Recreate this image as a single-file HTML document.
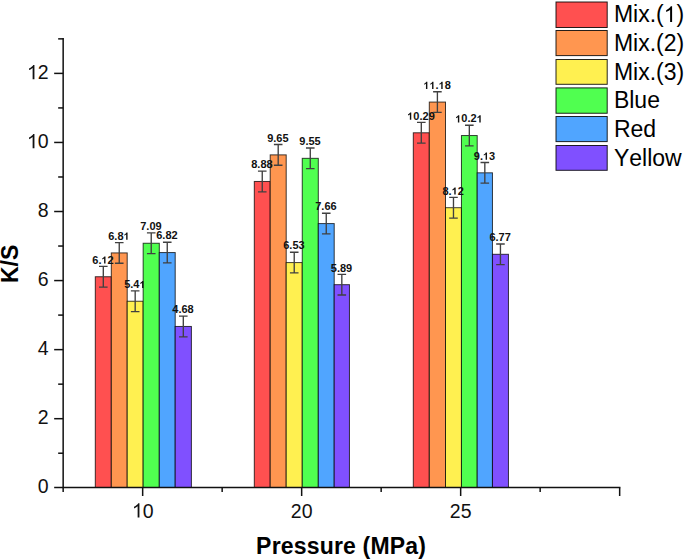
<!DOCTYPE html><html><head><meta charset="utf-8"><style>html,body{margin:0;padding:0;background:#fff;}svg{display:block;}text{font-family:"Liberation Sans",sans-serif;font-kerning:none;white-space:pre;}</style></head><body>
<svg width="685" height="559" viewBox="0 0 685 559">
<rect x="95.3" y="276.74" width="16" height="210.76" fill="#FF5050" stroke="#000" stroke-opacity="0.75" stroke-width="1"/>
<rect x="111.3" y="252.92" width="15.9" height="234.58" fill="#FF9650" stroke="#000" stroke-opacity="0.75" stroke-width="1"/>
<rect x="127.2" y="301.25" width="15.95" height="186.25" fill="#FFF050" stroke="#000" stroke-opacity="0.75" stroke-width="1"/>
<rect x="143.15" y="243.25" width="16.15" height="244.25" fill="#50FF50" stroke="#000" stroke-opacity="0.75" stroke-width="1"/>
<rect x="159.3" y="252.57" width="15.9" height="234.93" fill="#50A5FF" stroke="#000" stroke-opacity="0.75" stroke-width="1"/>
<rect x="175.2" y="326.45" width="16.2" height="161.05" fill="#8050FF" stroke="#000" stroke-opacity="0.75" stroke-width="1"/>
<rect x="254.3" y="181.46" width="15.9" height="306.04" fill="#FF5050" stroke="#000" stroke-opacity="0.75" stroke-width="1"/>
<rect x="270.2" y="154.88" width="16" height="332.62" fill="#FF9650" stroke="#000" stroke-opacity="0.75" stroke-width="1"/>
<rect x="286.2" y="262.58" width="16.05" height="224.92" fill="#FFF050" stroke="#000" stroke-opacity="0.75" stroke-width="1"/>
<rect x="302.25" y="158.33" width="16.05" height="329.17" fill="#50FF50" stroke="#000" stroke-opacity="0.75" stroke-width="1"/>
<rect x="318.3" y="223.58" width="15.9" height="263.92" fill="#50A5FF" stroke="#000" stroke-opacity="0.75" stroke-width="1"/>
<rect x="334.2" y="284.68" width="15.25" height="202.82" fill="#8050FF" stroke="#000" stroke-opacity="0.75" stroke-width="1"/>
<rect x="413.3" y="132.79" width="16" height="354.71" fill="#FF5050" stroke="#000" stroke-opacity="0.75" stroke-width="1"/>
<rect x="429.3" y="102.07" width="16.2" height="385.43" fill="#FF9650" stroke="#000" stroke-opacity="0.75" stroke-width="1"/>
<rect x="445.5" y="207.7" width="15.95" height="279.8" fill="#FFF050" stroke="#000" stroke-opacity="0.75" stroke-width="1"/>
<rect x="461.45" y="135.55" width="15.75" height="351.95" fill="#50FF50" stroke="#000" stroke-opacity="0.75" stroke-width="1"/>
<rect x="477.2" y="172.83" width="15.25" height="314.67" fill="#50A5FF" stroke="#000" stroke-opacity="0.75" stroke-width="1"/>
<rect x="492.45" y="254.3" width="16" height="233.2" fill="#8050FF" stroke="#000" stroke-opacity="0.75" stroke-width="1"/>
<path d="M103.3 266.39V287.09M99 266.39H107.6M99 287.09H107.6" stroke="#404040" stroke-width="1.35" fill="none"/>
<text x="92.295" y="263.588" font-size="11" font-weight="bold" fill="#111">6. 2</text><path transform="matrix(0.005 0 0 -0.005 101.469 263.588)" d="M806 0L525 0L525 1033C422 939 301 870 162 825L162 1074C235 1097 315 1141 401 1207C487 1272 546 1346 578 1430L806 1430Z" fill="#111"/>
<path d="M119.25 242.57V263.27M114.95 242.57H123.55M114.95 263.27H123.55" stroke="#404040" stroke-width="1.35" fill="none"/>
<text x="108.245" y="239.769" font-size="11" font-weight="bold" fill="#111">6.8 </text><path transform="matrix(0.005 0 0 -0.005 123.537 239.769)" d="M806 0L525 0L525 1033C422 939 301 870 162 825L162 1074C235 1097 315 1141 401 1207C487 1272 546 1346 578 1430L806 1430Z" fill="#111"/>
<path d="M135.18 290.9V311.6M130.88 290.9H139.48M130.88 311.6H139.48" stroke="#404040" stroke-width="1.35" fill="none"/>
<text x="124.17" y="288.097" font-size="11" font-weight="bold" fill="#111">5.4 </text><path transform="matrix(0.005 0 0 -0.005 139.462 288.097)" d="M806 0L525 0L525 1033C422 939 301 870 162 825L162 1074C235 1097 315 1141 401 1207C487 1272 546 1346 578 1430L806 1430Z" fill="#111"/>
<path d="M151.23 232.9V253.6M146.93 232.9H155.53M146.93 253.6H155.53" stroke="#404040" stroke-width="1.35" fill="none"/>
<text x="140.22" y="230.103" font-size="11" font-weight="bold" fill="#111">7.09</text>
<path d="M167.25 242.22V262.92M162.95 242.22H171.55M162.95 262.92H171.55" stroke="#404040" stroke-width="1.35" fill="none"/>
<text x="156.245" y="239.424" font-size="11" font-weight="bold" fill="#111">6.82</text>
<path d="M183.3 316.1V336.8M179 316.1H187.6M179 336.8H187.6" stroke="#404040" stroke-width="1.35" fill="none"/>
<text x="172.295" y="313.296" font-size="11" font-weight="bold" fill="#111">4.68</text>
<path d="M262.25 171.11V191.81M257.95 171.11H266.55M257.95 191.81H266.55" stroke="#404040" stroke-width="1.35" fill="none"/>
<text x="251.245" y="168.312" font-size="11" font-weight="bold" fill="#111">8.88</text>
<path d="M278.2 144.53V165.23M273.9 144.53H282.5M273.9 165.23H282.5" stroke="#404040" stroke-width="1.35" fill="none"/>
<text x="267.195" y="141.732" font-size="11" font-weight="bold" fill="#111">9.65</text>
<path d="M294.23 252.23V272.93M289.93 252.23H298.53M289.93 272.93H298.53" stroke="#404040" stroke-width="1.35" fill="none"/>
<text x="283.22" y="249.434" font-size="11" font-weight="bold" fill="#111">6.53</text>
<path d="M310.27 147.98V168.68M305.97 147.98H314.57M305.97 168.68H314.57" stroke="#404040" stroke-width="1.35" fill="none"/>
<text x="299.27" y="145.184" font-size="11" font-weight="bold" fill="#111">9.55</text>
<path d="M326.25 213.23V233.93M321.95 213.23H330.55M321.95 233.93H330.55" stroke="#404040" stroke-width="1.35" fill="none"/>
<text x="315.245" y="210.427" font-size="11" font-weight="bold" fill="#111">7.66</text>
<path d="M341.82 274.33V295.03M337.52 274.33H346.12M337.52 295.03H346.12" stroke="#404040" stroke-width="1.35" fill="none"/>
<text x="330.82" y="271.527" font-size="11" font-weight="bold" fill="#111">5.89</text>
<path d="M421.3 122.44V143.14M417 122.44H425.6M417 143.14H425.6" stroke="#404040" stroke-width="1.35" fill="none"/>
<text x="407.237" y="119.639" font-size="11" font-weight="bold" fill="#111"> 0.29</text><path transform="matrix(0.005 0 0 -0.005 407.237 119.639)" d="M806 0L525 0L525 1033C422 939 301 870 162 825L162 1074C235 1097 315 1141 401 1207C487 1272 546 1346 578 1430L806 1430Z" fill="#111"/>
<path d="M437.4 91.72V112.42M433.1 91.72H441.7M433.1 112.42H441.7" stroke="#404040" stroke-width="1.35" fill="none"/>
<text x="423.337" y="88.916" font-size="11" font-weight="bold" fill="#111">  . 8</text><path transform="matrix(0.005 0 0 -0.005 423.337 88.916)" d="M806 0L525 0L525 1033C422 939 301 870 162 825L162 1074C235 1097 315 1141 401 1207C487 1272 546 1346 578 1430L806 1430Z" fill="#111"/><path transform="matrix(0.005 0 0 -0.005 429.454 88.916)" d="M806 0L525 0L525 1033C422 939 301 870 162 825L162 1074C235 1097 315 1141 401 1207C487 1272 546 1346 578 1430L806 1430Z" fill="#111"/><path transform="matrix(0.005 0 0 -0.005 438.628 88.916)" d="M806 0L525 0L525 1033C422 939 301 870 162 825L162 1074C235 1097 315 1141 401 1207C487 1272 546 1346 578 1430L806 1430Z" fill="#111"/>
<path d="M453.48 197.35V218.05M449.18 197.35H457.78M449.18 218.05H457.78" stroke="#404040" stroke-width="1.35" fill="none"/>
<text x="442.47" y="194.548" font-size="11" font-weight="bold" fill="#111">8. 2</text><path transform="matrix(0.005 0 0 -0.005 451.644 194.548)" d="M806 0L525 0L525 1033C422 939 301 870 162 825L162 1074C235 1097 315 1141 401 1207C487 1272 546 1346 578 1430L806 1430Z" fill="#111"/>
<path d="M469.32 125.2V145.9M465.02 125.2H473.62M465.02 145.9H473.62" stroke="#404040" stroke-width="1.35" fill="none"/>
<text x="455.262" y="122.401" font-size="11" font-weight="bold" fill="#111"> 0.2 </text><path transform="matrix(0.005 0 0 -0.005 455.262 122.401)" d="M806 0L525 0L525 1033C422 939 301 870 162 825L162 1074C235 1097 315 1141 401 1207C487 1272 546 1346 578 1430L806 1430Z" fill="#111"/><path transform="matrix(0.005 0 0 -0.005 476.671 122.401)" d="M806 0L525 0L525 1033C422 939 301 870 162 825L162 1074C235 1097 315 1141 401 1207C487 1272 546 1346 578 1430L806 1430Z" fill="#111"/>
<path d="M484.82 162.48V183.18M480.52 162.48H489.12M480.52 183.18H489.12" stroke="#404040" stroke-width="1.35" fill="none"/>
<text x="473.82" y="159.682" font-size="11" font-weight="bold" fill="#111">9. 3</text><path transform="matrix(0.005 0 0 -0.005 482.994 159.682)" d="M806 0L525 0L525 1033C422 939 301 870 162 825L162 1074C235 1097 315 1141 401 1207C487 1272 546 1346 578 1430L806 1430Z" fill="#111"/>
<path d="M500.45 243.95V264.65M496.15 243.95H504.75M496.15 264.65H504.75" stroke="#404040" stroke-width="1.35" fill="none"/>
<text x="489.445" y="241.15" font-size="11" font-weight="bold" fill="#111">6.77</text>
<path d="M63.16 38.86V487.5H619.66" stroke="#111" stroke-width="1.5" fill="none" stroke-linecap="square"/>
<path d="M54.16 487.5H63.16" stroke="#111" stroke-width="1.5"/>
<text x="37.655" y="493.3" font-size="19.5" fill="#111">0</text>
<path d="M58.16 453.22H63.16" stroke="#111" stroke-width="1.5"/>
<path d="M54.16 418.69H63.16" stroke="#111" stroke-width="1.5"/>
<text x="37.655" y="424.49" font-size="19.5" fill="#111">2</text>
<path d="M58.16 384.16H63.16" stroke="#111" stroke-width="1.5"/>
<path d="M54.16 349.63H63.16" stroke="#111" stroke-width="1.5"/>
<text x="37.655" y="355.43" font-size="19.5" fill="#111">4</text>
<path d="M58.16 315.1H63.16" stroke="#111" stroke-width="1.5"/>
<path d="M54.16 280.57H63.16" stroke="#111" stroke-width="1.5"/>
<text x="37.655" y="286.37" font-size="19.5" fill="#111">6</text>
<path d="M58.16 246.04H63.16" stroke="#111" stroke-width="1.5"/>
<path d="M54.16 211.51H63.16" stroke="#111" stroke-width="1.5"/>
<text x="37.655" y="217.31" font-size="19.5" fill="#111">8</text>
<path d="M58.16 176.98H63.16" stroke="#111" stroke-width="1.5"/>
<path d="M54.16 142.45H63.16" stroke="#111" stroke-width="1.5"/>
<text x="26.81" y="148.25" font-size="19.5" fill="#111"> 0</text><path transform="matrix(0.01 0 0 -0.01 26.81 148.25)" d="M762 0L582 0L582 1119C539 1079 482 1039 412 999C342 959 279 929 223 908L223 1077C324 1123 412 1179 487 1245C562 1310 615 1374 646 1430L762 1430Z" fill="#111"/>
<path d="M58.16 107.92H63.16" stroke="#111" stroke-width="1.5"/>
<path d="M54.16 73.39H63.16" stroke="#111" stroke-width="1.5"/>
<text x="26.81" y="79.19" font-size="19.5" fill="#111"> 2</text><path transform="matrix(0.01 0 0 -0.01 26.81 79.19)" d="M762 0L582 0L582 1119C539 1079 482 1039 412 999C342 959 279 929 223 908L223 1077C324 1123 412 1179 487 1245C562 1310 615 1374 646 1430L762 1430Z" fill="#111"/>
<path d="M58.16 38.86H63.16" stroke="#111" stroke-width="1.5"/>
<path d="M63.16 487.5V492" stroke="#111" stroke-width="1.5"/>
<path d="M142.66 487.5V496" stroke="#111" stroke-width="1.5"/>
<path d="M222.16 487.5V492" stroke="#111" stroke-width="1.5"/>
<path d="M301.66 487.5V496" stroke="#111" stroke-width="1.5"/>
<path d="M381.16 487.5V492" stroke="#111" stroke-width="1.5"/>
<path d="M460.66 487.5V496" stroke="#111" stroke-width="1.5"/>
<path d="M540.16 487.5V492" stroke="#111" stroke-width="1.5"/>
<path d="M619.66 487.5V496" stroke="#111" stroke-width="1.5"/>
<text x="131.815" y="517.5" font-size="19.5" fill="#111"> 0</text><path transform="matrix(0.01 0 0 -0.01 131.815 517.5)" d="M762 0L582 0L582 1119C539 1079 482 1039 412 999C342 959 279 929 223 908L223 1077C324 1123 412 1179 487 1245C562 1310 615 1374 646 1430L762 1430Z" fill="#111"/>
<text x="290.815" y="517.5" font-size="19.5" fill="#111">20</text>
<text x="449.815" y="517.5" font-size="19.5" fill="#111">25</text>
<text x="256.111" y="553.5" font-size="23" font-weight="bold" letter-spacing="0.18" fill="#000">Pressure (MPa)</text>
<text transform="translate(18.2 263.9) rotate(-90)" x="0" y="0" font-size="23" font-weight="bold" text-anchor="middle" fill="#000">K/S</text>
<rect x="556" y="2" width="51.2" height="25.5" fill="#FF5050" stroke="#000" stroke-opacity="0.85" stroke-width="1"/>
<text x="613.9" y="22" font-size="23" fill="#000">Mix.( )</text><path transform="matrix(0.011 0 0 -0.011 663.718 22)" d="M762 0L582 0L582 1119C539 1079 482 1039 412 999C342 959 279 929 223 908L223 1077C324 1123 412 1179 487 1245C562 1310 615 1374 646 1430L762 1430Z" fill="#000"/>
<rect x="556" y="30.5" width="51.2" height="25.1" fill="#FF9650" stroke="#000" stroke-opacity="0.85" stroke-width="1"/>
<text x="613.9" y="50.5" font-size="23" fill="#000">Mix.(2)</text>
<rect x="556" y="59.5" width="51.2" height="24.8" fill="#FFF050" stroke="#000" stroke-opacity="0.85" stroke-width="1"/>
<text x="613.9" y="79.5" font-size="23" fill="#000">Mix.(3)</text>
<rect x="556" y="87.9" width="51.2" height="25.35" fill="#50FF50" stroke="#000" stroke-opacity="0.85" stroke-width="1"/>
<text x="613.9" y="107.9" font-size="23" fill="#000">Blue</text>
<rect x="556" y="116.5" width="51.2" height="25.1" fill="#50A5FF" stroke="#000" stroke-opacity="0.85" stroke-width="1"/>
<text x="613.9" y="136.5" font-size="23" fill="#000">Red</text>
<rect x="556" y="145.5" width="51.2" height="24.8" fill="#8050FF" stroke="#000" stroke-opacity="0.85" stroke-width="1"/>
<text x="613.9" y="165.5" font-size="23" fill="#000">Yellow</text>
</svg></body></html>
